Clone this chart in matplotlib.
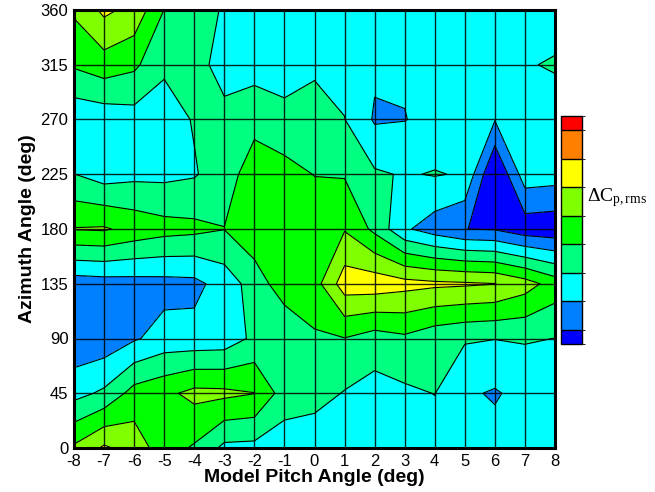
import numpy as np
import matplotlib
matplotlib.use("Agg")
import matplotlib.pyplot as plt
from matplotlib.colors import ListedColormap, BoundaryNorm
from matplotlib.cm import ScalarMappable

# Model pitch angle (deg) and azimuth angle (deg) of the measurement grid
pitch = [-8, -7, -6, -5, -4, -3, -2, -1, 0, 1, 2, 3, 4, 5, 6, 7, 8]
azimuth = [0, 45, 90, 135, 180, 225, 270, 315, 360]

# Delta Cp,rms (colour-level units), one list per azimuth station
rms_000 = [4.67, 5.66, 5.08, 3.95, 3.38, 2.25, 2.20, 1.96, 1.81, 2.10, 2.00, 2.00, 2.00, 1.90, 1.88, 1.90, 2.00]
rms_045 = [2.17, 2.68, 3.89, 4.25, 4.78, 4.73, 4.52, 3.02, 2.90, 2.44, 2.12, 2.32, 2.52, 1.65, 1.40, 1.83, 2.00]
rms_090 = [0.73, 0.85, 1.39, 1.88, 1.85, 1.92, 2.71, 2.56, 3.38, 3.47, 3.04, 3.31, 2.84, 2.60, 2.52, 2.58, 2.49]
rms_135 = [0.95, 1.05, 1.10, 1.15, 1.22, 1.94, 2.94, 4.10, 4.07, 6.03, 6.08, 5.85, 5.70, 5.63, 5.52, 4.95, 4.05]
rms_180 = [4.55, 4.61, 4.17, 3.87, 3.75, 3.52, 4.20, 4.25, 4.20, 4.43, 3.26, 1.65, 1.00, 0.51, 0.42, -0.10, -0.20]
rms_225 = [2.52, 2.04, 2.24, 2.25, 2.41, 3.05, 4.00, 3.89, 3.47, 3.42, 2.63, 2.42, 2.56, 2.41, -0.66, 2.04, 1.94]
rms_270 = [1.75, 1.87, 2.07, 2.00, 2.58, 2.88, 3.21, 2.76, 3.24, 2.52, 1.39, 1.47, 1.80, 2.00, 1.55, 2.00, 1.98]
rms_315 = [3.625, 4.05, 3.70, 2.68, 3.00, 1.98, 2.07, 2.10, 2.20, 2.20, 1.66, 1.62, 2.00, 2.00, 2.00, 2.42, 2.60]
rms_360 = [4.66, 5.72, 5.20, 3.48, 3.20, 2.35, 2.00, 2.00, 2.00, 2.00, 2.00, 2.00, 2.00, 2.00, 2.00, 2.00, 2.02]

# Contour levels and band colours
level_edges = [0.5, 1.5, 2.5, 3.5, 4.5, 5.5, 6.5, 7.5]
band_colors = ["#0000FF", "#0080FF", "#00FFFF", "#00FF80", "#00FF00",
               "#80FF00", "#FFFF00", "#FF8000", "#FF0000"]

Z = np.array([rms_000, rms_045, rms_090, rms_135, rms_180,
              rms_225, rms_270, rms_315, rms_360])
X, Y = np.meshgrid(pitch, azimuth)

fig = plt.figure(figsize=(6.55, 4.92), dpi=100)
ax = fig.add_axes([74 / 655, 1 - 448 / 492, (555 - 74) / 655, (448 - 10) / 492])

fill_levels = [-10] + level_edges + [20]
ax.contourf(X, Y, Z, levels=fill_levels, colors=band_colors)
ax.contour(X, Y, Z, levels=level_edges, colors="black", linewidths=0.8)

ax.set_xlim(-8, 8)
ax.set_ylim(0, 360)
ax.set_xticks(pitch)
ax.set_yticks(np.arange(0, 361, 45))
ax.grid(True, color="black", linewidth=1.0, alpha=0.85)
ax.set_axisbelow(False)

tick_font = dict(family="Liberation Sans", size=12)
ax.set_xticklabels([str(p) for p in pitch], fontdict=tick_font)
ax.set_yticklabels([str(a) for a in range(0, 361, 45)], fontdict=tick_font)
ax.tick_params(axis="x", length=0, pad=4.5)
ax.tick_params(axis="y", length=0, pad=4)
for s in ax.spines.values():
    s.set_linewidth(2.2)
    s.set_color("black")

ax.set_xlabel("Model Pitch Angle (deg)", family="Liberation Sans",
              fontsize=14, fontweight="bold", labelpad=0)
ax.set_ylabel("Azimuth Angle (deg)", family="Liberation Sans",
              fontsize=14, fontweight="bold", labelpad=3)

# Colour key with half-height end bands
cax = fig.add_axes([561 / 655, 1 - 344 / 492, 21 / 655, 228 / 492])
bar_bounds = [0.0] + level_edges + [8.0]
cmap = ListedColormap(band_colors)
norm = BoundaryNorm(bar_bounds, cmap.N)
cb = fig.colorbar(ScalarMappable(norm=norm, cmap=cmap), cax=cax,
                  boundaries=bar_bounds, spacing="proportional",
                  drawedges=True)
cb.set_ticks([])
cb.outline.set_linewidth(1.0)
cb.dividers.set_linewidth(1.0)

plt.rcParams["mathtext.fontset"] = "custom"
plt.rcParams["mathtext.rm"] = "Liberation Serif"
plt.rcParams["mathtext.it"] = "Liberation Serif:italic"
fig.text(587 / 655, 1 - 198 / 492, r"$\mathrm{\Delta C_{p,rms}}$",
         fontsize=14, ha="left", va="center")

fig.savefig("out.png", dpi=100)
